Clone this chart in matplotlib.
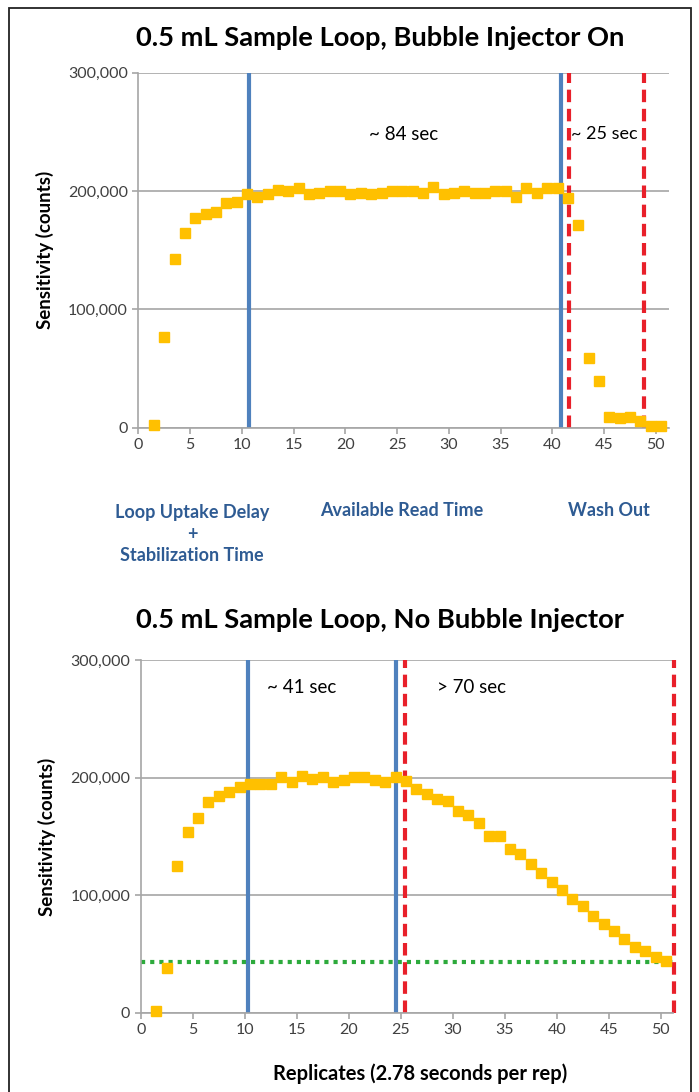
import numpy as np
import matplotlib
matplotlib.use("Agg")
import matplotlib.pyplot as plt
from matplotlib.patches import Rectangle

plt.rcParams['font.family'] = ['Lato', 'DejaVu Sans']

# replicate number (the Excel chart draws each point half a step to the right)
replicates = np.arange(1, 51)
x_shift = 0.5

# sensitivity in counts
bubble_on = [2000, 77000, 142300, 164200, 177000, 180300, 182500, 189600, 190700, 197500,
             195200, 197500, 200800, 199700, 202300, 197500, 198600, 199700, 199700, 197500,
             198600, 197500, 198600, 199700, 199700, 199700, 198300, 203100, 197500, 198600,
             200300, 198600, 198600, 200300, 200300, 195200, 202300, 198600, 202300, 202300,
             193800, 171300, 58600, 39400, 9200, 7900, 9200, 5800, 1400, 1400]

no_bubble = [1600, 38200, 124900, 154100, 166000, 179600, 184200, 187800, 192100, 194400,
             194400, 194400, 200300, 196600, 201400, 198900, 200300, 196600, 198000, 200300,
             200300, 198000, 196600, 200300, 197200, 190100, 186400, 181900, 180200, 171700,
             168000, 161200, 150700, 150700, 139100, 134900, 126600, 118700, 111300, 104200,
             96600, 90900, 82700, 75600, 69900, 62800, 56300, 52900, 47300, 44400]

# marker lines (replicate axis units)
top_blue = [10.7, 40.85]
top_red = [41.65, 48.85]
bot_blue = [10.35, 24.55]
bot_red = [25.4, 51.25]
threshold = 43000

yticks = [0, 100000, 200000, 300000]
xticks = list(range(0, 51, 5))

gold = '#FFC000'
blue = '#4F81BD'
red = '#E8202A'
green = '#2DAA3C'
grid = '#A6A6A6'
tick_col = '#404040'


def style_axis(ax, xmax):
    ax.set_xlim(0, xmax)
    ax.set_ylim(0, 300000)
    ax.set_xticks(xticks)
    ax.set_yticks(yticks)
    ax.set_yticklabels([f'{v:,}' for v in yticks])
    ax.yaxis.grid(True, color=grid, linewidth=1.2)
    ax.set_axisbelow(True)
    for s in ['top', 'right']:
        ax.spines[s].set_visible(False)
    for s in ['left', 'bottom']:
        ax.spines[s].set_color(grid)
        ax.spines[s].set_linewidth(1.2)
    ax.tick_params(colors=grid, labelcolor=tick_col, labelsize=11.5, length=4, width=1.2)
    ax.set_ylabel('Sensitivity (counts)', fontsize=13.5, fontweight='bold', labelpad=10)


fig = plt.figure(figsize=(6.99, 10.92), dpi=100)
fig.patches.append(Rectangle((9 / 699, -0.01), 682 / 699, 1.01 - 8 / 1092, transform=fig.transFigure,
                             fill=False, edgecolor='#222222', linewidth=1.3))

# top chart
ax1 = fig.add_axes([138.3 / 699, 1 - 427.6 / 1092, 531 / 699, 354.9 / 1092])
style_axis(ax1, 51.3)
for xv in top_blue:
    ax1.axvline(xv, color=blue, linewidth=3, zorder=2)
for xv in top_red:
    ax1.axvline(xv, color=red, linewidth=3, linestyle=(0, (3, 1.6)), zorder=2)
ax1.plot(replicates + x_shift, bubble_on, 's', color=gold, markersize=7, zorder=3, clip_on=False)
ax1.text(25.6, 248000, '~ 84 sec', fontsize=13.5, ha='center', va='center')
ax1.text(45.0, 248000, '~ 25 sec', fontsize=13, ha='center', va='center')

fig.text(380 / 699, 1 - 38 / 1092, '0.5 mL Sample Loop, Bubble Injector On',
         fontsize=19.7, fontweight='bold', ha='center', va='center')

sec_col = '#2E5B93'
fig.text(192 / 699, 1 - 534 / 1092, 'Loop Uptake Delay\n+\nStabilization Time', fontsize=13,
         fontweight='bold', color=sec_col, ha='center', va='center', linespacing=1.35)
fig.text(402 / 699, 1 - 511 / 1092, 'Available Read Time', fontsize=13,
         fontweight='bold', color=sec_col, ha='center', va='center')
fig.text(609 / 699, 1 - 511 / 1092, 'Wash Out', fontsize=13,
         fontweight='bold', color=sec_col, ha='center', va='center')

# bottom chart
ax2 = fig.add_axes([140.7 / 699, 1 - 1012.9 / 1092, 532 / 699, 352.9 / 1092])
style_axis(ax2, 51.15)
ax2.axhline(threshold, color=green, linewidth=3, linestyle=(0, (1, 1.2)), zorder=2)
for xv in bot_blue:
    ax2.axvline(xv, color=blue, linewidth=3, zorder=2)
for xv in bot_red:
    ax2.axvline(xv, color=red, linewidth=3, linestyle=(0, (3, 1.6)), zorder=2, clip_on=False)
ax2.plot(replicates + x_shift, no_bubble, 's', color=gold, markersize=7, zorder=3, clip_on=False)
ax2.text(15.5, 277000, '~ 41 sec', fontsize=13.5, ha='center', va='center')
ax2.text(31.8, 277000, '> 70 sec', fontsize=13.5, ha='center', va='center')

fig.text(380 / 699, 1 - 620 / 1092, '0.5 mL Sample Loop, No Bubble Injector',
         fontsize=19.7, fontweight='bold', ha='center', va='center')
fig.text(420 / 699, 1 - 1074 / 1092, 'Replicates (2.78 seconds per rep)',
         fontsize=14.5, fontweight='bold', ha='center', va='center')

fig.savefig('out.png', dpi=100)
